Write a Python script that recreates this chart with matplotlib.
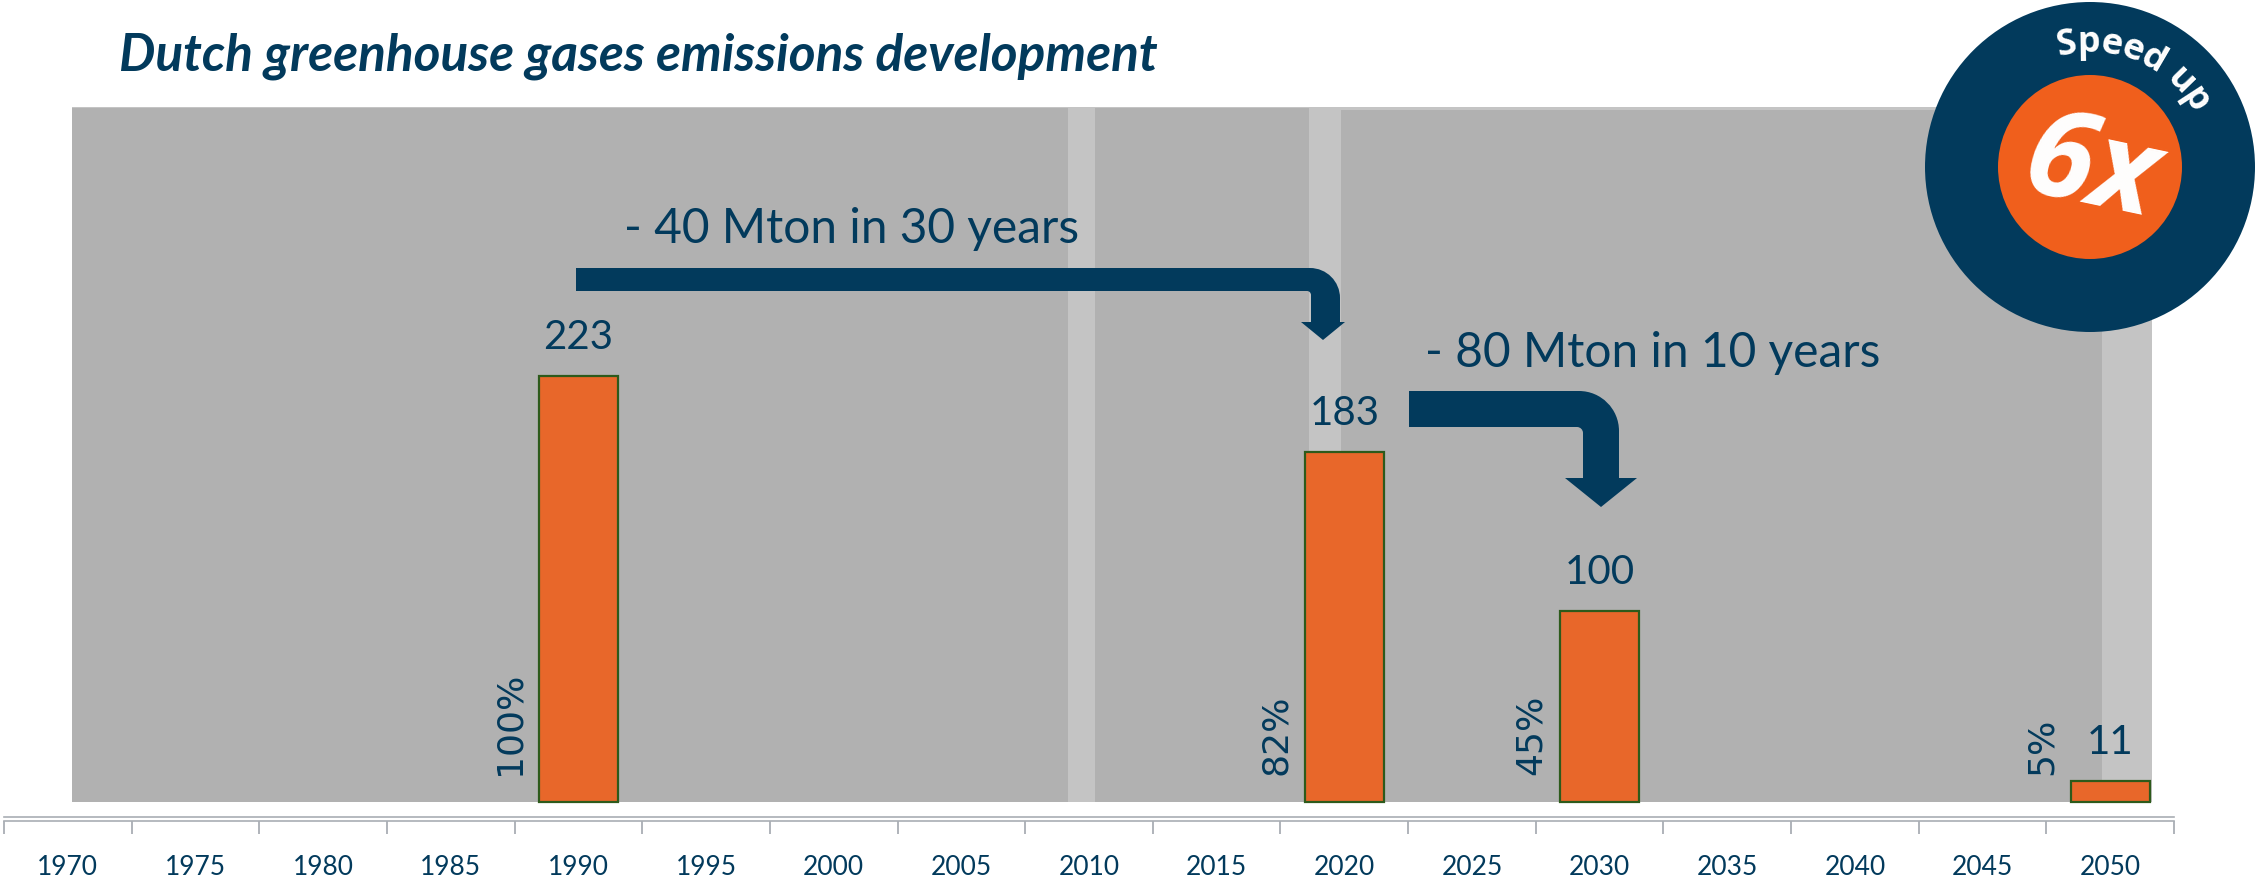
import matplotlib
matplotlib.use('Agg')
import matplotlib.pyplot as plt
from matplotlib.patches import Rectangle, Circle, PathPatch
from matplotlib.path import Path
from matplotlib.font_manager import FontProperties
import numpy as np

# ---------------- data ----------------
years = ['1970', '1975', '1980', '1985', '1990', '1995', '2000', '2005', '2010',
         '2015', '2020', '2025', '2030', '2035', '2040', '2045', '2050']
bar_years = ['1990', '2020', '2030', '2050']
emissions = [223, 183, 100, 11]          # Mton CO2-eq
share_pct = [100, 82, 45, 5]             # % of 1990 level
title = 'Dutch greenhouse gases emissions development'
note_1 = '- 40 Mton in 30 years'
note_2 = '- 80 Mton in 10 years'
badge_top = 'Speed up'
badge_main = '6x'

# ---------------- style ----------------
W, H, DPI = 2257, 879, 100
NAVY = '#023a5c'
ORANGE = '#e8672a'
BADGE_ORANGE = '#f05f1c'
EDGE = '#2d5a1b'
DARK_GRAY = '#b1b1b1'
LIGHT_GRAY = '#c4c4c4'
AXIS_GRAY = '#a9aeb4'
FONT = 'Lato'

fig = plt.figure(figsize=(W / DPI, H / DPI), dpi=DPI)
fig.patch.set_facecolor('white')

AX_L, AX_R, AX_B, AX_T = 4, 2174, 822, 108     # axes box in pixels (top-left origin)
BASE = 803                                      # pixel row of value 0
PX_PER_UNIT = 1.91
ax = fig.add_axes([AX_L / W, 1 - AX_B / H, (AX_R - AX_L) / W, (AX_B - AX_T) / H])
y0 = -(AX_B - BASE) / PX_PER_UNIT
ax.set_ylim(y0, y0 + (AX_B - AX_T) / PX_PER_UNIT)
ax.set_xlim(-0.5, len(years) - 0.5)
ax.patch.set_visible(False)


def bg(x0, x1, ytop, color):
    ax.add_patch(Rectangle(((x0 - AX_L) / (AX_R - AX_L), (AX_B - BASE) / (AX_B - AX_T)),
                           (x1 - x0) / (AX_R - AX_L), (BASE - ytop) / (AX_B - AX_T),
                           transform=ax.transAxes, facecolor=color, edgecolor='none',
                           zorder=0, clip_on=False))


bg(72, 2152, 108, LIGHT_GRAY)
bg(72, 1068, 109, DARK_GRAY)
bg(1095, 1309, 109, DARK_GRAY)
bg(1341, 2102, 111, DARK_GRAY)

xpos = [years.index(y) for y in bar_years]
BAR_W = 0.62
ax.bar(xpos, emissions, width=BAR_W, color=ORANGE, edgecolor=EDGE, linewidth=1.6, zorder=3)

for x, v, p in zip(xpos, emissions, share_pct):
    ax.annotate(f'{v}', xy=(x, v), xytext=(0, 28), textcoords='offset pixels',
                ha='center', va='baseline', fontsize=29, family=FONT, color=NAVY, zorder=4)
    ax.annotate(f'{p}%', xy=(x - BAR_W / 2, 0), xytext=(-12, 28), textcoords='offset pixels',
                rotation=90, ha='right', va='bottom', fontsize=26, family='DejaVu Sans',
                color=NAVY, zorder=4)

# axis
for side in ['left', 'right', 'top']:
    ax.spines[side].set_visible(False)
ax.spines['bottom'].set_color(AXIS_GRAY)
ax.spines['bottom'].set_linewidth(1.2)
ax.axhline(y0 + 4 / PX_PER_UNIT, color=AXIS_GRAY, lw=1.2, clip_on=False, zorder=1)
ax.set_yticks([])
ax.set_xticks(np.arange(len(years)), labels=years)
ax.set_xticks(np.arange(len(years) + 1) - 0.5, minor=True)
ax.tick_params(axis='x', which='major', length=0, pad=24, labelsize=19, labelcolor=NAVY)
ax.tick_params(axis='x', which='minor', length=9, width=1.3, color=AXIS_GRAY, direction='out')
for lbl in ax.get_xticklabels():
    lbl.set_fontfamily(FONT)

# title
fig.text(119 / W, 1 - 70 / H, title, fontsize=37, family=FONT, weight='bold', style='italic',
         color=NAVY, va='baseline', ha='left')

# notes
fig.text(624 / W, 1 - 243 / H, note_1, fontsize=34.5, family=FONT, color=NAVY, va='baseline')
fig.text(1425 / W, 1 - 367 / H, note_2, fontsize=34.5, family=FONT, color=NAVY, va='baseline')


def P(x, y):
    return (x / DPI, (H - y) / DPI)


def bent_arrow(x0, ytop, ybot, sx0, sx1, r_out, r_in, yhead, hx0, hx1, ytip):
    k = 0.5523
    pts = [(x0, ytop), (sx1 - r_out, ytop),
           (sx1 - r_out + k * r_out, ytop), (sx1, ytop + r_out - k * r_out), (sx1, ytop + r_out),
           (sx1, yhead), (hx1, yhead), ((hx0 + hx1) / 2, ytip), (hx0, yhead), (sx0, yhead),
           (sx0, ybot + r_in), (sx0, ybot + r_in - k * r_in), (sx0 - r_in + k * r_in, ybot),
           (sx0 - r_in, ybot), (x0, ybot), (x0, ytop)]
    codes = [Path.MOVETO, Path.LINETO, Path.CURVE4, Path.CURVE4, Path.CURVE4,
             Path.LINETO, Path.LINETO, Path.LINETO, Path.LINETO, Path.LINETO,
             Path.LINETO, Path.CURVE4, Path.CURVE4, Path.CURVE4, Path.LINETO, Path.CLOSEPOLY]
    path = Path([P(*p) for p in pts], codes)
    fig.add_artist(PathPatch(path, transform=fig.dpi_scale_trans, facecolor=NAVY,
                             edgecolor='none', zorder=4))


bent_arrow(576, 269, 292, 1311, 1340, 30, 4, 323, 1301, 1345, 341)
bent_arrow(1409, 392, 428, 1583, 1619, 40, 6, 479, 1565, 1637, 508)

# badge
CX, CY = 2090, 168
fig.add_artist(Circle(P(CX, CY), 165 / DPI, transform=fig.dpi_scale_trans,
                      facecolor=NAVY, edgecolor='none', zorder=5))
fig.add_artist(Circle(P(CX, CY), 92 / DPI, transform=fig.dpi_scale_trans,
                      facecolor=BADGE_ORANGE, edgecolor='none', zorder=6))
fig.text(2091 / W, 1 - 172 / H, badge_main, ha='center', va='center', rotation=-12,
         rotation_mode='anchor', fontsize=88, weight='bold', style='italic',
         family='Open Sans', color='white', zorder=7)

fp = FontProperties(family='Open Sans', weight='bold', size=26)
renderer = fig.canvas.get_renderer()


def tw(s):
    return renderer.get_text_width_height_descent(s + '.', fp, ismath=False)[0] - \
        renderer.get_text_width_height_descent('.', fp, ismath=False)[0]


centers = []
for i in range(len(badge_top)):
    a = tw(badge_top[:i]) if i > 0 else 0.0
    b = tw(badge_top[:i + 1])
    centers.append((a + b) / 2)
TH0, TH1, RB = np.deg2rad(101), np.deg2rad(33), 116
for ch, c in zip(badge_top, centers):
    if ch == ' ':
        continue
    th = TH0 - (c - centers[0]) / (centers[-1] - centers[0]) * (TH0 - TH1)
    x = CX + RB * np.cos(th)
    y = CY - RB * np.sin(th)
    fig.text(x / W, 1 - y / H, ch, ha='center', va='baseline', rotation=np.rad2deg(th) - 90,
             rotation_mode='anchor', fontproperties=fp, color='white', zorder=7)

fig.savefig('out.png', dpi=DPI, facecolor='white')
